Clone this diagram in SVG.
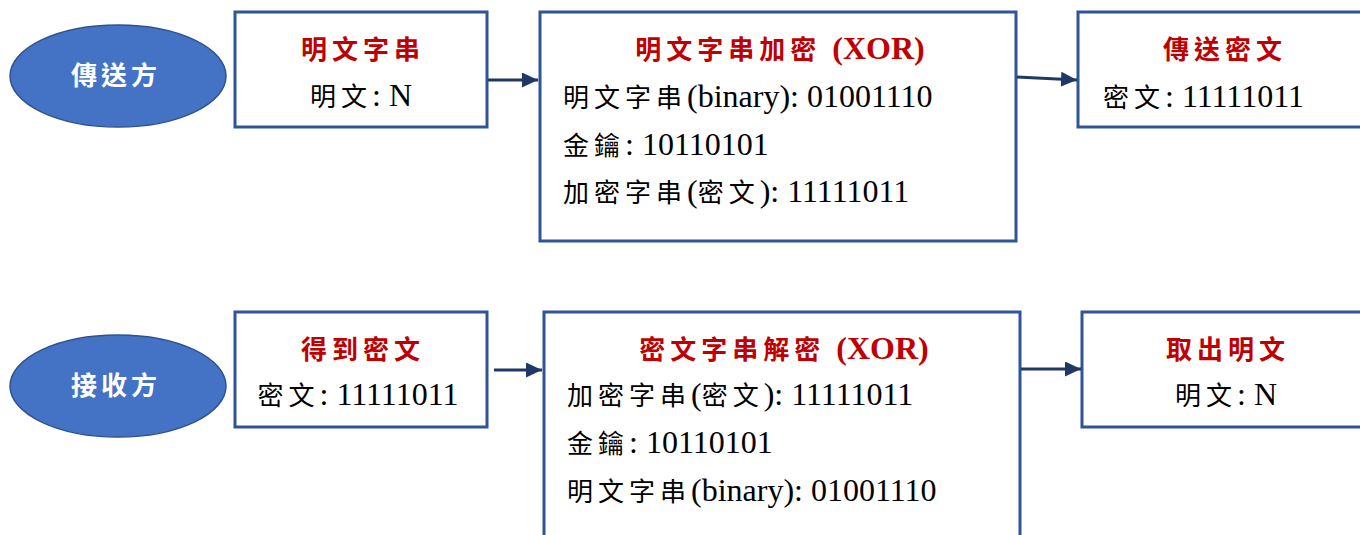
<svg xmlns="http://www.w3.org/2000/svg" width="1360" height="535" viewBox="0 0 1360 535">
<style>
.box{fill:#fff;stroke:#2F5597;stroke-width:3}
.ell{fill:#4472C4;stroke:#2F528F;stroke-width:1.5}
.et{font-family:"Noto Sans CJK TC",sans-serif;font-weight:bold;font-size:26px;letter-spacing:4px;fill:#fff}
.t{font-family:"Noto Sans CJK TC",sans-serif;font-weight:bold;font-size:26px;letter-spacing:5px;fill:#C00000}
.tx{font-family:"Liberation Serif",serif;font-weight:bold;font-size:32px;letter-spacing:0}
.b{font-family:"Liberation Serif","Noto Sans CJK TC",serif;font-size:32px;fill:#000}
.c{font-family:"Noto Sans CJK TC",sans-serif;font-size:26px;letter-spacing:5px}
.con{stroke:#203864;stroke-width:3;fill:none}
</style>
<defs>
<marker id="ah" markerUnits="userSpaceOnUse" markerWidth="17" markerHeight="16" refX="16" refY="7.5" orient="auto">
<path d="M0,0 L16,7.5 L0,15 z" fill="#203864"/>
</marker>
</defs>

<g id="sender">
<ellipse class="ell" cx="118" cy="76" rx="108" ry="51"/>
<text class="et" x="116" y="85" text-anchor="middle">傳送方</text>
</g>

<g id="plaintext">
<rect class="box" x="235" y="12" width="252" height="115"/>
<text class="t" x="363" y="59" text-anchor="middle">明文字串</text>
<text class="b" x="361" y="106" text-anchor="middle"><tspan class="c">明文</tspan>: N</text>
</g>

<g id="encrypt">
<rect class="box" x="540" y="12" width="476" height="229"/>
<text class="t" x="780" y="59" text-anchor="middle">明文字串加密 <tspan class="tx">(XOR)</tspan></text>
<text class="b" x="563" y="107"><tspan class="c">明文字串</tspan>(binary): 01001110</text>
<text class="b" x="563" y="155"><tspan class="c">金鑰</tspan>: 10110101</text>
<text class="b" x="563" y="202"><tspan class="c">加密字串</tspan>(<tspan class="c">密文</tspan>): 11111011</text>
</g>

<g id="sendcipher">
<rect class="box" x="1078" y="12" width="300" height="115"/>
<text class="t" x="1225" y="59" text-anchor="middle">傳送密文</text>
<text class="b" x="1103" y="107"><tspan class="c">密文</tspan>: 11111011</text>
</g>

<g id="receiver">
<ellipse class="ell" cx="118" cy="386" rx="108" ry="51"/>
<text class="et" x="116" y="395" text-anchor="middle">接收方</text>
</g>

<g id="getcipher">
<rect class="box" x="235" y="312" width="252" height="115"/>
<text class="t" x="363" y="359" text-anchor="middle">得到密文</text>
<text class="b" x="358" y="405" text-anchor="middle"><tspan class="c">密文</tspan>: 11111011</text>
</g>

<g id="decrypt">
<rect class="box" x="544" y="312" width="476" height="250"/>
<text class="t" x="784" y="359" text-anchor="middle">密文字串解密 <tspan class="tx">(XOR)</tspan></text>
<text class="b" x="567" y="405"><tspan class="c">加密字串</tspan>(<tspan class="c">密文</tspan>): 11111011</text>
<text class="b" x="567" y="453"><tspan class="c">金鑰</tspan>: 10110101</text>
<text class="b" x="567" y="501"><tspan class="c">明文字串</tspan>(binary): 01001110</text>
</g>

<g id="getplain">
<rect class="box" x="1082" y="312" width="300" height="115"/>
<text class="t" x="1228" y="359" text-anchor="middle">取出明文</text>
<text class="b" x="1226" y="405" text-anchor="middle"><tspan class="c">明文</tspan>: N</text>
</g>

<g id="connectors">
<line class="con" x1="488" y1="80" x2="538" y2="80" marker-end="url(#ah)"/>
<line class="con" x1="1017" y1="77" x2="1077" y2="80" marker-end="url(#ah)"/>
<line class="con" x1="494" y1="370" x2="542" y2="370" marker-end="url(#ah)"/>
<line class="con" x1="1021" y1="369" x2="1081" y2="369" marker-end="url(#ah)"/>
</g>
</svg>
